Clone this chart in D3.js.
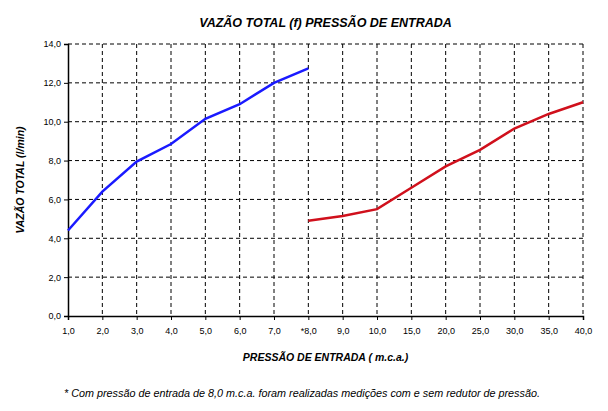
<!DOCTYPE html>
<html><head><meta charset="utf-8">
<script src="https://cdn.jsdelivr.net/npm/d3@7"></script>
<style>body{margin:0;background:#fff;font-family:"Liberation Sans",Arial,sans-serif}</style>
</head><body>
<script>
var categories = ["1,0","2,0","3,0","4,0","5,0","6,0","7,0","*8,0","9,0","10,0","15,0","20,0","25,0","30,0","35,0","40,0"];
var blueCats = ["1,0","2,0","3,0","4,0","5,0","6,0","7,0","*8,0"];
var blueValues = [4.4, 6.4, 7.95, 8.85, 10.15, 10.9, 12.0, 12.75];
var redCats = ["*8,0","9,0","10,0","15,0","20,0","25,0","30,0","35,0","40,0"];
var redValues = [4.9, 5.15, 5.5, 6.6, 7.7, 8.55, 9.65, 10.4, 11.0];
var yTicks = [0,2,4,6,8,10,12,14];

var margin = {top: 44, right: 25, bottom: 95, left: 68},
    width = 608 - margin.left - margin.right,
    height = 411 - margin.top - margin.bottom;

var svg = d3.select("body").append("svg").attr("width", 608).attr("height", 411);
var g = svg.append("g").attr("transform", "translate(" + margin.left + "," + margin.top + ")");

var x = d3.scalePoint().domain(categories).range([0, width]);
var y = d3.scaleLinear().domain([0, 14]).range([height, 0]);
var fmt = function(d){ return d.toFixed(1).replace(".", ","); };

// grid
g.selectAll(".vg").data(categories.slice(1)).enter().append("line")
    .attr("x1", x).attr("x2", x).attr("y1", 0).attr("y2", height)
    .attr("stroke", "#000").attr("stroke-dasharray", "4,3");
g.selectAll(".hg").data(yTicks.slice(1)).enter().append("line")
    .attr("x1", 0).attr("x2", width).attr("y1", y).attr("y2", y)
    .attr("stroke", "#000").attr("stroke-dasharray", "4,3");

var xAxis = g.append("g").attr("transform", "translate(0," + height + ")")
    .call(d3.axisBottom(x).tickSize(4).tickPadding(8));
var yAxis = g.append("g").call(d3.axisLeft(y).tickValues(yTicks).tickFormat(fmt).tickSize(4).tickPadding(3));
[xAxis, yAxis].forEach(function(a){
  a.selectAll("text").style("font-size", "9px").style("font-family", "Liberation Sans, Arial");
  a.select(".domain").attr("stroke-width", 1.5);
});

var line = d3.line().x(function(d){ return x(d[0]); }).y(function(d){ return y(d[1]); });
g.append("path").datum(d3.zip(blueCats, blueValues)).attr("d", line)
    .attr("fill", "none").attr("stroke", "#1a1aff").attr("stroke-width", 2.5);
g.append("path").datum(d3.zip(redCats, redValues)).attr("d", line)
    .attr("fill", "none").attr("stroke", "#d0101c").attr("stroke-width", 2.5);

svg.append("text").attr("x", 68 + width/2).attr("y", 27).attr("text-anchor", "middle")
    .style("font-size", "12.5px").style("font-weight", "bold").style("font-style", "italic")
    .text("VAZÃO TOTAL (f) PRESSÃO DE ENTRADA");
svg.append("text").attr("x", 68 + width/2).attr("y", 361).attr("text-anchor", "middle")
    .style("font-size", "10.5px").style("font-weight", "bold").style("font-style", "italic")
    .text("PRESSÃO DE ENTRADA ( m.c.a.)");
svg.append("text").attr("transform", "translate(24," + (margin.top + height/2) + ") rotate(-90)")
    .attr("text-anchor", "middle")
    .style("font-size", "10.5px").style("font-weight", "bold").style("font-style", "italic")
    .text("VAZÃO TOTAL (l/min)");
svg.append("text").attr("x", 64).attr("y", 397)
    .style("font-size", "10.8px").style("font-style", "italic")
    .text("* Com pressão de entrada de 8,0 m.c.a. foram realizadas medições com e sem redutor de pressão.");
</script>
</body></html>
